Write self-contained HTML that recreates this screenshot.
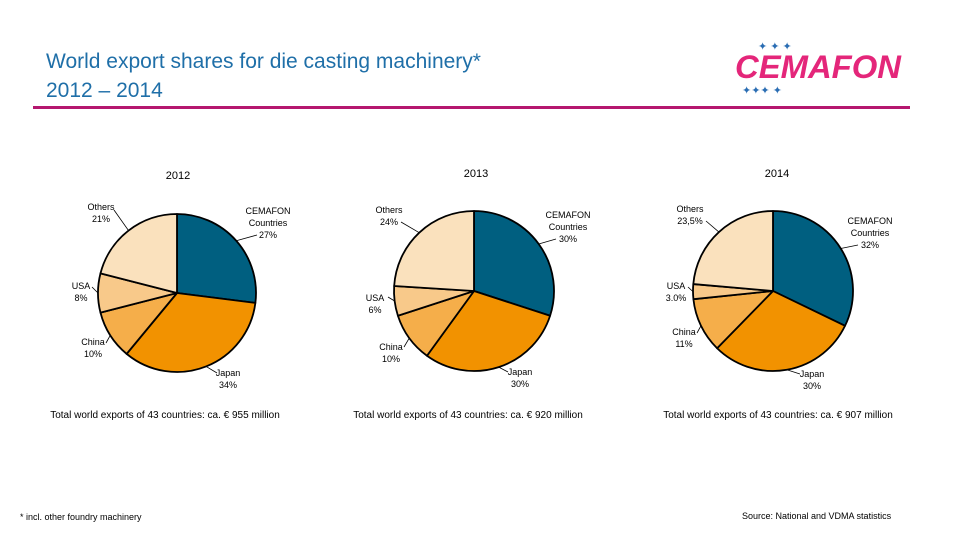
<!DOCTYPE html>
<html><head><meta charset="utf-8">
<style>
body{margin:0;background:#fff;}
#root{position:relative;width:960px;height:540px;overflow:hidden;font-family:"Liberation Sans",sans-serif;}
.t{position:absolute;white-space:nowrap;}
</style></head>
<body>
<div id="root">
<div class="t" style="left:46px;top:47px;font-size:21px;line-height:29px;color:#1f6fa8;">World export shares for die casting machinery*<br>2012 – 2014</div>
<div style="position:absolute;left:33px;top:106px;width:877px;height:3px;background:#b5176f;"></div>
<div style="position:absolute;left:730px;top:36px;width:180px;height:62px;">
<svg width="180" height="62">
<text x="5" y="42" font-family="Liberation Sans" font-weight="bold" font-style="italic" font-size="32" fill="#e4267a" textLength="166" lengthAdjust="spacingAndGlyphs">CEMAFON</text>
<text x="28" y="14" font-size="11" fill="#2a6db3">✦ ✦ ✦</text>
<text x="12" y="58" font-size="11" fill="#2a6db3">✦✦✦ ✦</text>
</svg></div>
<svg id="chart" width="960" height="540" style="position:absolute;left:0;top:0;"></svg>
<div class="t" style="left:20px;top:512px;font-size:9px;color:#000;">* incl. other foundry machinery</div>
<div class="t" style="left:742px;top:511px;font-size:9px;color:#000;">Source: National and VDMA statistics</div>
</div>
<script>
const years=["2012","2013","2014"];
const categories=["CEMAFON Countries","Japan","China","USA","Others"];
const values2012=[27,34,10,8,21];
const values2013=[30,30,10,6,24];
const values2014=[32,30,11,3.0,23.5];
const valueLabels2012=["27%","34%","10%","8%","21%"];
const valueLabels2013=["30%","30%","10%","6%","24%"];
const valueLabels2014=["32%","30%","11%","3.0%","23,5%"];
const totals=["Total world exports of 43 countries: ca. € 955 million","Total world exports of 43 countries: ca. € 920 million","Total world exports of 43 countries: ca. € 907 million"];
const colors=["#005f80","#f29200","#f5ae4a","#f8c98a","#fae1bd"];
const NS="http://www.w3.org/2000/svg";
const svg=document.getElementById('chart');
function mk(tag,attrs,parent){const e=document.createElementNS(NS,tag);for(const k in attrs)e.setAttribute(k,attrs[k]);(parent||svg).appendChild(e);return e;}
const pies=[{cx:177,cy:293,r:79,yx:178,yy:179,tx:165},{cx:474,cy:291,r:80,yx:476,yy:177,tx:468},{cx:773,cy:291,r:80,yx:777,yy:177,tx:778}];
// label layout: [centerX, firstLineCenterY, leaderStartX, leaderStartY]
const labelPos=[
 [[268,211,257,235],[228,373,217,373],[93,342,106,343],[81,286,92,287],[101,207,114,210]],
 [[568,215,556,239],[520,372,508,372],[391,347,404,347],[375,298,388,297],[389,210,401,222]],
 [[870,221,858,245],[812,374,800,374],[684,332,697,333],[676,286,688,287],[690,209,706,221]]
];
const allVals=[values2012,values2013,values2014];
const allLbl=[valueLabels2012,valueLabels2013,valueLabels2014];
function txt(x,y,s,size,name){const t=mk('text',{x:x,y:y,'font-size':size,'text-anchor':'middle','font-family':'Liberation Sans',fill:'#000'});t.textContent=s;return t;}
pies.forEach((p,i)=>{
  const vals=allVals[i];const tot=vals.reduce((a,b)=>a+b,0);
  const g=mk('g',{});
  
  
  let a=0;const mids=[];
  vals.forEach((v,j)=>{
    const a0=a/tot*2*Math.PI,a1=(a+v)/tot*2*Math.PI;a+=v;
    const x0=p.cx+p.r*Math.sin(a0),y0=p.cy-p.r*Math.cos(a0),x1=p.cx+p.r*Math.sin(a1),y1=p.cy-p.r*Math.cos(a1);
    const large=(a1-a0)>Math.PI?1:0;
    const path=mk('path',{d:`M${p.cx},${p.cy}L${x0},${y0}A${p.r},${p.r} 0 ${large} 1 ${x1},${y1}Z`,fill:colors[j],stroke:'#000','stroke-width':1.8,'stroke-linejoin':'round'},g);
    
    
    mids.push((a0+a1)/2);
  });
  const L=allLbl[i];
  categories.forEach((c,j)=>{
    const m=mids[j];const ex=p.cx+p.r*Math.sin(m),ey=p.cy-p.r*Math.cos(m);
    const [lx,ly,sx,sy]=labelPos[i][j];
    const ln=mk('path',{d:`M${sx},${sy}L${ex},${ey}`,stroke:'#000','stroke-width':0.8,fill:'none'});
    
    
    const key=c.split(' ')[0].toLowerCase();
    if(j===0){txt(lx,ly+3,'CEMAFON',9,'label-'+key);txt(lx,ly+15,'Countries',9,'label-'+key);txt(lx,ly+27,L[j],9,'value-'+key);}
    else{txt(lx,ly+3,c,9,'label-'+key);txt(lx,ly+15,L[j],9,'value-'+key);}
  });
  txt(p.yx,p.yy,years[i],11,'year-title');
  txt(p.tx,418,totals[i],10,'total-exports-note');
});
</script>
</body></html>
